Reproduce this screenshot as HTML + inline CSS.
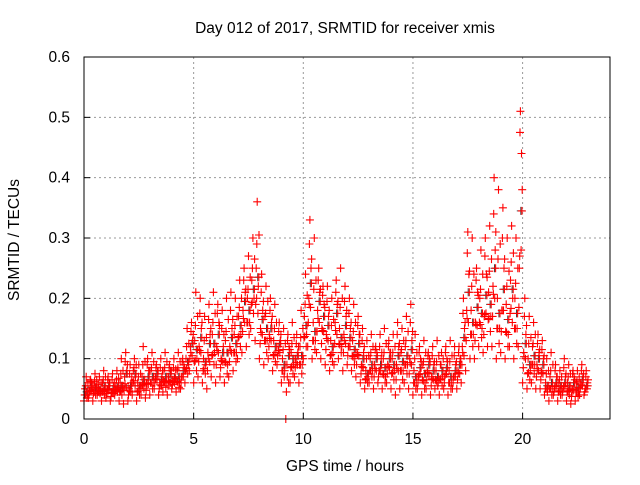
<!DOCTYPE html>
<html><head><meta charset="utf-8"><style>
body{margin:0;background:#fff}
svg text{font-family:"Liberation Sans",sans-serif;font-size:15.5px;fill:#000}
</style></head><body>
<svg id="chart" width="640" height="480" viewBox="0 0 640 480" xmlns="http://www.w3.org/2000/svg">
<rect width="640" height="480" fill="#fff"/>
<g id="grid"></g>
<g id="pts"></g>
<rect x="84" y="57" width="526" height="362" fill="none" stroke="#000" stroke-width="1"/>
<g id="ticks"></g>
<text x="345" y="33" text-anchor="middle">Day 012 of 2017, SRMTID for receiver xmis</text>
<text x="345" y="471" text-anchor="middle">GPS time / hours</text>
<text transform="translate(19,240) rotate(-90)" text-anchor="middle">SRMTID / TECUs</text>
</svg>
<script>
const xTicks=[0,5,10,15,20];
const xTickLabels=["0","5","10","15","20"];
const yTicks=[0,0.1,0.2,0.3,0.4,0.5,0.6];
const yTickLabels=["0","0.1","0.2","0.3","0.4","0.5","0.6"];
const slotStep=0.2;
const lo=[.03,.035,.03,.04,.03,.035,.03,.04, .03,.025,.03,.04,.03, .04,.035,.04,.05,.04,.045,.04,.05,.045,.05, .06,.08, .06,.07,.06,.05,.07,.06,.07,.06,.07,.08, .1,.11,.12, .15,.13, .1,.09,.1,.08,.09, .06,.0,.06,.07,.06, .1,.12,.1,.11,.1, .09,.08,.09,.1,.08,.09,.08,.07, .06,.05,.06,.05,.06,.05,.06, .05,.04,.05,.06,.05, .04,.05,.04,.05,.04,.05,.04,.05,.04,.05, .05,.06,.08, .1,.1,.12,.11,.12, .12,.1,.11,.1,.12, .1,.12, .06,.05,.06,.05,.05, .04,.03,.04,.03,.04,.03,.025,.03,.04,.04];
const hi=[.07,.065,.075,.07,.08,.07,.075,.08, .1,.11,.09,.1,.09, .12,.1,.11,.09,.1,.11,.09,.1,.11,.1, .15,.16, .21,.2,.17,.19,.21,.19,.18,.2,.21,.2, .23,.25,.27, .3,.36, .24,.22,.2,.19,.16, .15,.14,.16,.14,.18, .24,.33,.3,.25,.22, .22,.2,.23,.25,.22,.2,.19,.17, .15,.13,.14,.12,.14,.15,.13, .14,.16,.15,.17,.19, .14,.12,.13,.11,.12,.13,.11,.12,.13,.12, .12,.2,.31, .3,.25,.28,.3,.32, .4,.38,.35,.3,.32, .3,.51, .2,.17,.16,.14,.13, .1,.11,.09,.08,.1,.09,.08,.08,.09,.08];
const midA=[.05,.045,.055,.05,.06,.05,.045,.055, .06,.07,.05,.08,.06, .07,.06,.08,.07,.06,.08,.07,.065,.08,.07, .1,.12, .13,.12,.1,.11,.14,.12,.1,.13,.12,.14, .17,.18,.2, .23,.25, .15,.17,.14,.13,.12, .1,.09,.11,.1,.12, .17,.2,.16,.18,.15, .14,.13,.16,.15,.14,.12,.13,.11, .09,.08,.1,.09,.08,.1,.09, .1,.09,.11,.12,.1, .08,.07,.09,.08,.07,.08,.09,.07,.08,.07, .08,.12,.18, .18,.16,.2,.17,.21, .22,.2,.18,.19,.23, .2,.25, .11,.1,.12,.09,.08, .06,.07,.05,.06,.05,.06,.05,.06,.06,.05];
const midB=[.04,.06,.05,.045,.05,.06,.055,.05, .05,.08,.06,.07,.05, .06,.08,.06,.08,.07,.06,.08,.07,.06,.09, .09,.13, .1,.15,.09,.14,.11,.16,.12,.09,.15,.11, .14,.21,.16, .2,.22, .18,.13,.16,.11,.13, .08,.12,.09,.11,.09, .14,.25,.13,.21,.19, .17,.11,.19,.12,.17,.15,.1,.14, .11,.07,.08,.11,.1,.07,.11, .08,.12,.08,.09,.13, .06,.1,.06,.1,.09,.06,.07,.1,.06,.09, .1,.15,.24, .14,.21,.15,.24,.17, .28,.15,.25,.14,.2, .15,.44, .14,.08,.09,.11,.1, .05,.05,.07,.05,.07,.05,.07,.045,.07,.06];
const NS="http://www.w3.org/2000/svg";
const X=v=>84+v*21.93, Y=v=>419-v*603.3;
function mk(tag,attrs,parent){const e=document.createElementNS(NS,tag);for(const k in attrs)e.setAttribute(k,attrs[k]);parent.appendChild(e);return e;}
const grid=document.getElementById('grid'),ticks=document.getElementById('ticks'),pts=document.getElementById('pts');
xTicks.forEach((v,i)=>{
  if(v>0){const g=mk('line',{x1:X(v),x2:X(v),y1:57,y2:419,stroke:'#999','stroke-dasharray':'2,3'},grid);
  
  }
  const t=mk('line',{x1:X(v),x2:X(v),y1:419,y2:413,stroke:'#000'},ticks);
  
  
  const l=mk('text',{x:X(v),y:444,'text-anchor':'middle'},ticks);l.textContent=xTickLabels[i];
  
  
});
yTicks.forEach((v,i)=>{
  if(v>0&&v<0.6){const g=mk('line',{x1:84,x2:610,y1:Y(v),y2:Y(v),stroke:'#999','stroke-dasharray':'2,3'},grid);
  
  }
  const t=mk('line',{x1:84,x2:90,y1:Y(v),y2:Y(v),stroke:'#000'},ticks);
  
  
  const l=mk('text',{x:70,y:Y(v)+5,'text-anchor':'end'},ticks);l.textContent=yTickLabels[i];
  
  
});
let dBlack='',dRed='';
function plus(t,v){const x=X(t),y=Y(v);return `M${(x-4).toFixed(1)},${y.toFixed(1)}h8M${x.toFixed(1)},${(y-4).toFixed(1)}v8`;}
for(let i=0;i<lo.length;i++){
  const t=i*slotStep;
  dBlack+=plus(t+0.12,(midA[i]+midB[i])/2);
  dRed+=plus(t,lo[i])+plus(t+0.1,hi[i])+plus(t+0.05,midA[i])+plus(t+0.15,midB[i]);
  dRed+=plus(t+0.03,(lo[i]+midA[i])/2)+plus(t+0.08,(midB[i]+hi[i])/2)+plus(t+0.13,(lo[i]+midB[i])/2)+plus(t+0.18,(midA[i]+hi[i])/2);
  dRed+=plus(t+0.07,(lo[i]+midB[i]+midA[i])/3)+plus(t+0.17,(midA[i]+midB[i])/2);
}
const pb=mk('path',{d:dBlack,stroke:'#444','stroke-width':1,fill:'none'},pts);


const pr=mk('path',{d:dRed,stroke:'#f00','stroke-width':1.1,fill:'none'},pts);


</script>
</body></html>
